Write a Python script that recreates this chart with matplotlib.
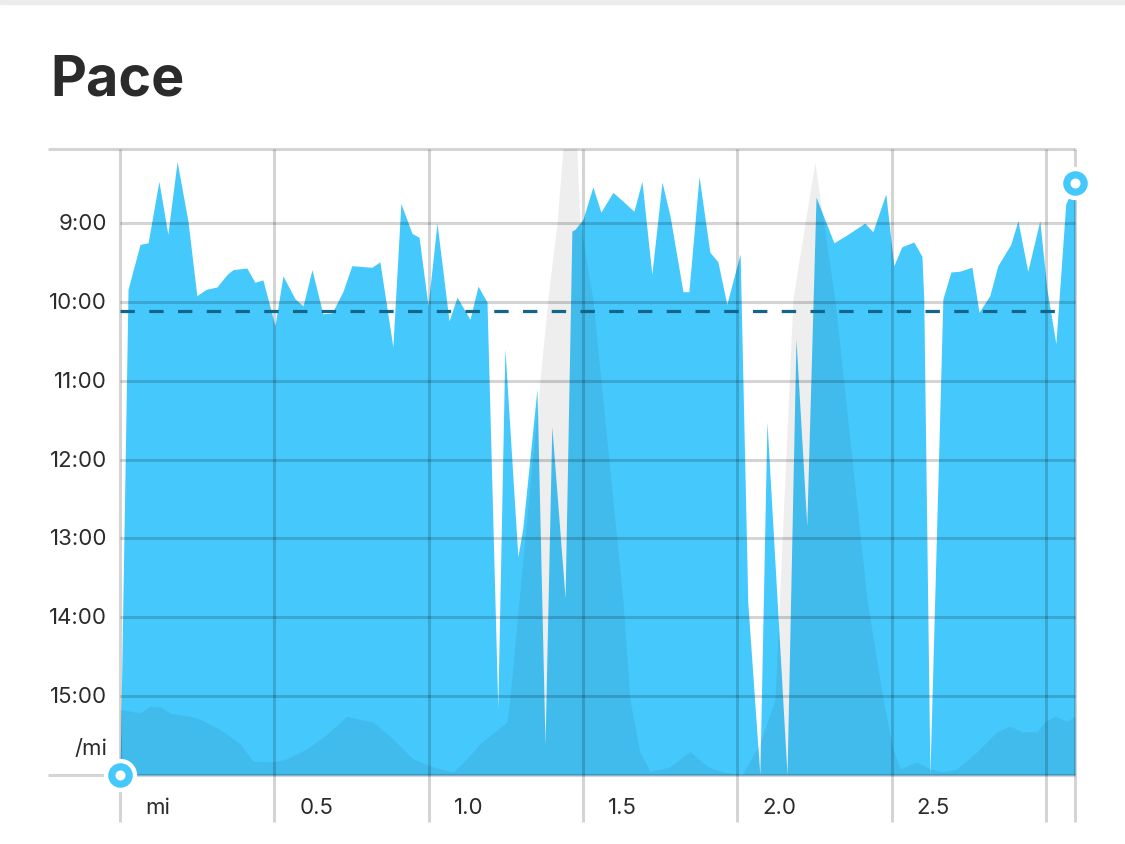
import matplotlib
matplotlib.use('Agg')
import numpy as np
import matplotlib.pyplot as plt
import matplotlib.transforms as mtransforms

# pace per sample (minutes per mile) against distance (miles)
dist = [0, 0.026, 0.065, 0.091, 0.126, 0.155, 0.185, 0.220, 0.249, 0.279,
        0.314, 0.347, 0.366, 0.411, 0.437, 0.463, 0.502, 0.528, 0.567, 0.593,
        0.622, 0.657, 0.687, 0.722, 0.751, 0.816, 0.842, 0.884, 0.910, 0.946,
        0.969, 0.998, 1.027, 1.066, 1.092, 1.134, 1.160, 1.189, 1.224, 1.247,
        1.289, 1.305, 1.351, 1.377, 1.399, 1.442, 1.464, 1.474, 1.500, 1.532,
        1.558, 1.597, 1.629, 1.665, 1.691, 1.723, 1.756, 1.782, 1.824, 1.843,
        1.876, 1.911, 1.937, 1.966, 2.009, 2.034, 2.073, 2.096, 2.161, 2.190,
        2.225, 2.255, 2.313, 2.355, 2.413, 2.439, 2.481, 2.507, 2.533, 2.572,
        2.598, 2.604, 2.624, 2.666, 2.692, 2.721, 2.760, 2.783, 2.818, 2.844,
        2.886, 2.909, 2.941, 2.980, 3.003, 3.032, 3.064, 3.094]
pace = [16.0, 9.84, 9.27, 9.25, 8.47, 9.14, 8.22, 8.97, 9.92, 9.84,
        9.81, 9.65, 9.59, 9.57, 9.75, 9.72, 10.30, 9.67, 9.96, 10.05,
        9.59, 10.15, 10.14, 9.87, 9.54, 9.56, 9.49, 10.57, 8.75, 9.13,
        9.18, 10.05, 9.00, 10.24, 9.94, 10.22, 9.80, 10.00, 15.15, 10.59,
        13.23, 12.87, 11.10, 15.62, 11.58, 13.76, 9.10, 9.08, 8.95, 8.54,
        8.86, 8.61, 8.72, 8.85, 8.47, 9.65, 8.48, 8.91, 9.87, 9.87,
        8.41, 9.37, 9.49, 10.03, 9.39, 13.82, 16.0, 11.52, 16.0, 10.47,
        12.84, 8.67, 9.25, 9.15, 9.00, 9.11, 8.63, 9.54, 9.30, 9.24,
        9.42, 9.96, 16.0, 9.96, 9.62, 9.61, 9.56, 10.13, 9.92, 9.54,
        9.27, 8.97, 9.61, 8.97, 9.84, 10.53, 8.76, 8.49]

# background grey profile (relative height, 0-100)
elev_dist = [0, 0.065, 0.097, 0.130, 0.162, 0.194, 0.227, 0.259, 0.324, 0.389,
             0.431, 0.496, 0.541, 0.606, 0.670, 0.735, 0.777, 0.819, 0.884, 0.949,
             1.014, 1.079, 1.124, 1.166, 1.254, 1.263, 1.293, 1.386, 1.416, 1.435,
             1.458, 1.480, 1.490, 1.532, 1.629, 1.652, 1.684, 1.717, 1.782, 1.846,
             1.902, 1.953, 2.015, 2.073, 2.122, 2.180, 2.251, 2.316, 2.420, 2.472,
             2.504, 2.527, 2.582, 2.624, 2.666, 2.711, 2.776, 2.841, 2.883, 2.925,
             2.971, 2.996, 3.029, 3.068, 3.094]
elev = [10.5, 9.9, 11.0, 10.9, 9.9, 9.6, 9.4, 8.9, 7.3, 5.0,
        2.2, 2.1, 2.6, 4.2, 6.5, 9.4, 8.9, 8.5, 5.8, 2.6,
        1.3, 0.5, 2.6, 5.0, 8.5, 12.1, 28.1, 76.0, 88.3, 100,
        104, 100, 88.3, 76.0, 28.1, 12.1, 3.7, 0.6, 1.3, 3.8,
        1.4, 0.5, 0, 5.0, 12.1, 76.0, 97.9, 76.0, 28.1, 12.1,
        4.2, 1.0, 2.1, 1.0, 0.5, 1.0, 3.7, 6.9, 7.8, 6.9,
        6.9, 8.5, 9.4, 8.6, 9.4]

avg_pace = 10 + 7 / 60
y_ticks = [9, 10, 11, 12, 13, 14, 15]
y_labels = ['9:00', '10:00', '11:00', '12:00', '13:00', '14:00', '15:00']
x_ticks = [0, 0.5, 1.0, 1.5, 2.0, 2.5]
x_labels = ['mi', '0.5', '1.0', '1.5', '2.0', '2.5']
x_grid = [0, 0.5, 1.0, 1.5, 2.0, 2.5, 3.0, 3.094]

blue = '#45c9fd'
txt = '#2b2b2b'
font = 'Inter'

fig = plt.figure(figsize=(11.25, 8.45), dpi=100)
fig.patches.append(plt.Rectangle((0, 0.994), 1, 0.006, transform=fig.transFigure,
                                 color='#ececec', zorder=0))
ax = fig.add_axes([120 / 1125, 69 / 845, 955 / 1125, 626 / 845])
ymin, ymax = 16, 8.06
ax.set_xlim(0, 3.094)
ax.set_ylim(ymin, ymax)
ax.fill_between(dist, pace, ymin, color=blue, lw=0)
ax.axis('off')

ax2 = ax.twinx()
ax2.set_ylim(0, 100)
ax2.fill_between(elev_dist, elev, 0, color='black', alpha=0.065, lw=0)
ax2.axis('off')

# grid drawn on top of both areas
gkw = dict(color='black', alpha=0.17, lw=2.2, solid_capstyle='butt', clip_on=False,
           transform=ax.transData)
left_ext = -72 / 308.7
for y in y_ticks:
    ax2.plot([0, 3.094], [y, y], **gkw)
for y in [ymin, ymax]:
    ax2.plot([left_ext, 3.094], [y, y], **gkw)
vtrans = mtransforms.blended_transform_factory(ax.transData, ax.transAxes)
for x in x_grid:
    ax2.plot([x, x], [-47 / 626, 1], color='black', alpha=0.17, lw=2.2,
             solid_capstyle='butt', clip_on=False, transform=vtrans)

ax2.plot([0, 3.07], [avg_pace, avg_pace], color='#13658a', lw=2.3,
         dashes=(4.5, 4.5), transform=ax.transData)

# start and end markers
for x, y in [(dist[0], pace[0]), (dist[-1], pace[-1])]:
    ax2.plot(x, y, 'o', ms=23, color='white', clip_on=False, transform=ax.transData,
             zorder=5)
    ax2.plot(x, y, 'o', ms=12.5, mfc='white', mec=blue, mew=5.2, clip_on=False,
             transform=ax.transData, zorder=6)

for y, lab in zip(y_ticks, y_labels):
    ax2.text(-13 / 308.7, y, lab, ha='right', va='center', fontsize=16, color=txt,
             family=font, transform=ax.transData)
ax2.text(-13 / 308.7, 15.66, '/mi', ha='right', va='center', fontsize=16, color=txt,
         family=font, transform=ax.transData)
for x, lab in zip(x_ticks, x_labels):
    ax2.text(x + 25 / 308.7, -32 / 626, lab, ha='left', va='center', fontsize=16,
             color=txt, family=font, transform=vtrans)

fig.text(50 / 1125, (845 - 95) / 845, 'Pace', fontsize=40, fontweight='bold',
         color=txt, family=font, va='baseline', ha='left')

fig.savefig('out.png', dpi=100, facecolor='white')
